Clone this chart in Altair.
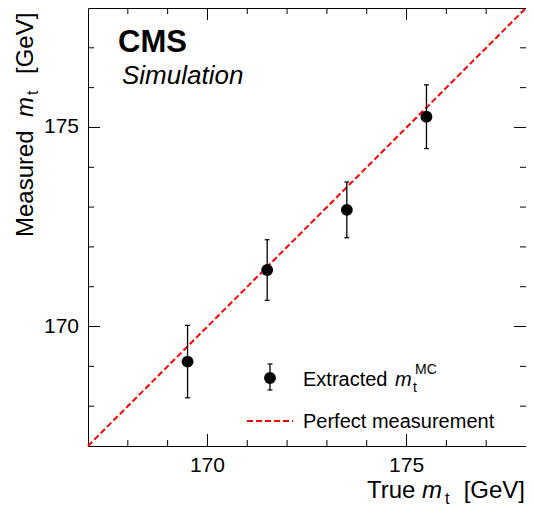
import altair as alt
import pandas as pd

# ---- data ----
true_mass = [169.5, 171.5, 173.5, 175.5]
measured_mass = [169.12, 171.42, 172.93, 175.27]
mass_err = [0.91, 0.76, 0.70, 0.80]
diag_vals = [167.0, 178.0]
axis_domain = [167, 178]
major_ticks = [170, 175]
major_labels = ["170", "175"]
minor_ticks = [168, 169, 171, 172, 173, 174, 176, 177]

W, H = 438, 438
FONT = "Liberation Sans"

pts = pd.DataFrame({
    "true": true_mass,
    "meas": measured_mass,
    "lo": [m - e for m, e in zip(measured_mass, mass_err)],
    "hi": [m + e for m, e in zip(measured_mass, mass_err)],
})
diag = pd.DataFrame({"true": diag_vals, "meas": diag_vals})
df_major = pd.DataFrame({"v": major_ticks, "lab": major_labels})
df_minor = pd.DataFrame({"v": minor_ticks})

xs = alt.Scale(domain=axis_domain, nice=False, zero=False)
ys = alt.Scale(domain=axis_domain, nice=False, zero=False)

diag_line = alt.Chart(diag).mark_line(color="#ff0000", strokeDash=[6, 3], strokeWidth=2).encode(
    x=alt.X("true:Q", scale=xs, axis=None),
    y=alt.Y("meas:Q", scale=ys, axis=None),
)

err = alt.Chart(pts).mark_rule(color="black", strokeWidth=1.3).encode(
    x=alt.X("true:Q", scale=xs, axis=None),
    y=alt.Y("lo:Q", scale=ys, axis=None),
    y2="hi:Q",
)
cap_lo = alt.Chart(pts).mark_tick(orient="horizontal", color="black", size=5, thickness=1.2, opacity=1).encode(
    x=alt.X("true:Q", scale=xs, axis=None),
    y=alt.Y("lo:Q", scale=ys, axis=None),
)
cap_hi = alt.Chart(pts).mark_tick(orient="horizontal", color="black", size=5, thickness=1.2, opacity=1).encode(
    x=alt.X("true:Q", scale=xs, axis=None),
    y=alt.Y("hi:Q", scale=ys, axis=None),
)
dots = alt.Chart(pts).mark_circle(color="black", size=140, opacity=1).encode(
    x=alt.X("true:Q", scale=xs, axis=None),
    y=alt.Y("meas:Q", scale=ys, axis=None),
)


def xticks(df, length):
    bot = alt.Chart(df).mark_rule(color="black", strokeWidth=1).encode(
        x=alt.X("v:Q", scale=xs, axis=None), y=alt.value(H), y2=alt.value(H - length))
    top = alt.Chart(df).mark_rule(color="black", strokeWidth=1).encode(
        x=alt.X("v:Q", scale=xs, axis=None), y=alt.value(0), y2=alt.value(length))
    return [bot, top]


def yticks(df, length):
    left = alt.Chart(df).mark_rule(color="black", strokeWidth=1).encode(
        y=alt.Y("v:Q", scale=ys, axis=None), x=alt.value(0), x2=alt.value(length))
    right = alt.Chart(df).mark_rule(color="black", strokeWidth=1).encode(
        y=alt.Y("v:Q", scale=ys, axis=None), x=alt.value(W), x2=alt.value(W - length))
    return [left, right]


tick_layers = xticks(df_major, 12) + xticks(df_minor, 6) + yticks(df_major, 12) + yticks(df_minor, 6)

# tick labels
xlab = alt.Chart(df_major).mark_text(align="center", baseline="alphabetic", font=FONT,
                                     fontSize=21, color="black").encode(
    x=alt.X("v:Q", scale=xs, axis=None), y=alt.value(H + 26), text="lab:N")
ylab = alt.Chart(df_major).mark_text(align="right", baseline="middle", font=FONT,
                                     fontSize=21, color="black").encode(
    y=alt.Y("v:Q", scale=ys, axis=None), x=alt.value(-9), text="lab:N")


def label(txt, x, y, size, style="normal", weight="normal", align="left", angle=0):
    return alt.Chart(pd.DataFrame({"t": [txt]})).mark_text(
        align=align, baseline="alphabetic", font=FONT, fontSize=size,
        fontStyle=style, fontWeight=weight, color="black", angle=angle,
    ).encode(text="t:N", x=alt.value(x), y=alt.value(y))


texts = [
    # x title
    label("True", 279, 490, 24),
    label("m", 334, 490, 24, style="italic"),
    label("t", 357, 496, 16),
    label("[GeV]", 437, 490, 24, align="right"),
    # y title (rotated)
    label("Measured", -55, 229, 24, angle=270),
    label("m", -55, 109, 24, style="italic", angle=270),
    label("t", -50, 87, 16, angle=270),
    label("[GeV]", -55, 66, 24, angle=270),
    # CMS label
    label("CMS", 30, 44, 31, weight="bold"),
    label("Simulation", 34, 76, 26, style="italic"),
    # legend
    label("Extracted", 215, 378, 20),
    label("m", 307, 378, 20, style="italic"),
    label("t", 325, 384, 14),
    label("MC", 327, 366, 14),
    label("Perfect measurement", 215, 420, 20),
]

leg_df = pd.DataFrame({"t": ["Extracted"]})
leg_err = alt.Chart(leg_df).mark_rule(color="black", strokeWidth=1.3).encode(
    x=alt.value(182), y=alt.value(356), y2=alt.value(382))
leg_cap1 = alt.Chart(leg_df).mark_rule(color="black", strokeWidth=1.2).encode(
    x=alt.value(179.5), x2=alt.value(184.5), y=alt.value(356))
leg_cap2 = alt.Chart(leg_df).mark_rule(color="black", strokeWidth=1.2).encode(
    x=alt.value(179.5), x2=alt.value(184.5), y=alt.value(382))
leg_dot = alt.Chart(leg_df).mark_circle(color="black", size=140, opacity=1).encode(
    x=alt.value(182), y=alt.value(370))
leg_line = alt.Chart(leg_df).mark_rule(color="#ff0000", strokeDash=[6, 3], strokeWidth=2).encode(
    x=alt.value(159), x2=alt.value(205), y=alt.value(413))

chart = alt.layer(
    diag_line, err, cap_lo, cap_hi, dots,
    *tick_layers, xlab, ylab,
    leg_err, leg_cap1, leg_cap2, leg_dot, leg_line,
    *texts,
).properties(
    width=W, height=H,
    autosize=alt.AutoSizeParams(type="none"),
    padding={"left": 80, "top": 0, "right": 0, "bottom": 62},
    background="white",
).configure_view(stroke="black", strokeWidth=1)

chart.save("out.html", embed_options={"renderer": "svg", "actions": False})
